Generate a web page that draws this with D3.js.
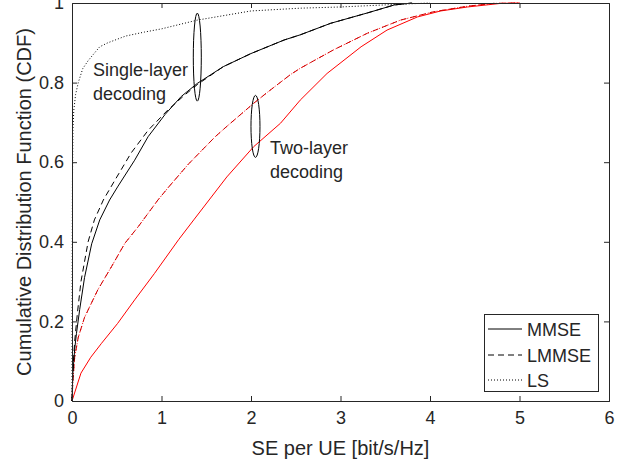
<!DOCTYPE html>
<html>
<head>
<meta charset="utf-8">
<script src="https://cdn.jsdelivr.net/npm/d3@7"></script>
<style>
  body { margin: 0; background: #fff; }
  svg text { font-family: "Liberation Sans", Arial, Helvetica, sans-serif; fill: #262626; }
</style>
</head>
<body>
<svg id="chart" width="629" height="465"></svg>
<script>
// ---- data ----
const xTicks = [0, 1, 2, 3, 4, 5, 6];
const yTicks = [0, 0.2, 0.4, 0.6, 0.8, 1];
const yTickLabels = ["0", "0.2", "0.4", "0.6", "0.8", "1"];

// Single-layer decoding
const singleMMSE_x = [0, 0.01, 0.03, 0.05, 0.086, 0.14, 0.22, 0.31, 0.42, 0.515, 0.70, 0.85, 1.04, 1.22, 1.40, 1.69, 2.0, 2.37, 2.55, 2.89, 3.30, 3.6, 3.8];
const singleMMSE_p = [0, 0.07, 0.13, 0.17, 0.23, 0.31, 0.395, 0.455, 0.505, 0.54, 0.605, 0.664, 0.72, 0.765, 0.798, 0.84, 0.873, 0.907, 0.92, 0.949, 0.975, 0.995, 1];

const singleLMMSE_x = [0, 0.01, 0.03, 0.06, 0.10, 0.18, 0.25, 0.35, 0.48, 0.66, 0.85, 1.07, 1.26, 1.40, 1.69, 2.0, 2.37, 2.55, 2.89, 3.3, 3.6, 3.8];
const singleLMMSE_p = [0, 0.08, 0.15, 0.22, 0.30, 0.40, 0.455, 0.505, 0.555, 0.623, 0.68, 0.731, 0.769, 0.795, 0.84, 0.873, 0.907, 0.92, 0.949, 0.975, 0.995, 1];

const singleLS_x = [0, 0.002, 0.005, 0.01, 0.02, 0.04, 0.07, 0.12, 0.18, 0.25, 0.31, 0.4, 0.6, 0.81, 1.0, 1.4, 2.0, 2.55, 3.0, 3.67, 4.0];
const singleLS_p = [0, 0.3, 0.55, 0.68, 0.73, 0.77, 0.80, 0.835, 0.855, 0.874, 0.89, 0.90, 0.917, 0.927, 0.935, 0.957, 0.98, 0.987, 0.99, 0.997, 1];

// Two-layer decoding
const twoMMSE_x = [0, 0.10, 0.21, 0.33, 0.51, 0.70, 0.92, 1.19, 1.36, 1.73, 2.03, 2.33, 2.55, 2.85, 3.23, 3.52, 3.86, 4.12, 4.42, 4.79, 5.0];
const twoMMSE_p = [0, 0.07, 0.11, 0.145, 0.195, 0.254, 0.32, 0.405, 0.455, 0.563, 0.639, 0.698, 0.756, 0.823, 0.89, 0.932, 0.965, 0.98, 0.99, 0.999, 1];

const twoLMMSE_x = [0, 0.01, 0.03, 0.07, 0.14, 0.29, 0.44, 0.59, 0.74, 0.96, 1.07, 1.30, 1.60, 1.73, 2.03, 2.18, 2.44, 2.55, 2.92, 3.30, 3.67, 4.04, 4.42, 4.71, 5.0];
const twoLMMSE_p = [0, 0.05, 0.11, 0.16, 0.21, 0.28, 0.337, 0.396, 0.438, 0.505, 0.535, 0.595, 0.664, 0.69, 0.748, 0.775, 0.82, 0.836, 0.882, 0.924, 0.957, 0.978, 0.992, 0.999, 1];

const twoLS_x = twoLMMSE_x;
const twoLS_p = twoLMMSE_p;

const legendLabels = ["MMSE", "LMMSE", "LS"];

// ---- layout ----
const svg = d3.select("#chart");
const L = 72, R = 609, T = 3, B = 401;
const x = d3.scaleLinear().domain([0, 6]).range([L, R]);
const y = d3.scaleLinear().domain([0, 1]).range([B, T]);
const axisColor = "#262626";

const zip = (xs, ps) => xs.map((v, i) => [v, ps[i]]);
const line = d3.line().x(d => x(d[0])).y(d => y(d[1]));

const series = [
  { d: zip(twoMMSE_x, twoMMSE_p), color: "#ff0000", dash: null },
  { d: zip(twoLS_x, twoLS_p), color: "#ff0000", dash: "1,2" },
  { d: zip(twoLMMSE_x, twoLMMSE_p), color: "#d00000", dash: "6,4" },
  { d: zip(singleLS_x, singleLS_p), color: "#000000", dash: "1,2" },
  { d: zip(singleLMMSE_x, singleLMMSE_p), color: "#000000", dash: "6,4" },
  { d: zip(singleMMSE_x, singleMMSE_p), color: "#000000", dash: null }
];

const plot = svg.append("g");
series.forEach(s => {
  plot.append("path").attr("d", line(s.d))
    .attr("fill", "none").attr("stroke", s.color).attr("stroke-width", 1)
    .attr("stroke-dasharray", s.dash);
});

// axes (box with inner ticks)
const tl = 5;
const gBottom = svg.append("g").attr("transform", `translate(0,${B})`)
  .call(d3.axisBottom(x).tickValues(xTicks).tickSize(-tl).tickPadding(10).tickFormat(d3.format("d")));
const gTop = svg.append("g").attr("transform", `translate(0,${T})`)
  .call(d3.axisTop(x).tickValues(xTicks).tickSize(-tl).tickFormat(""));
const gLeft = svg.append("g").attr("transform", `translate(${L},0)`)
  .call(d3.axisLeft(y).tickValues(yTicks).tickSize(-tl).tickPadding(8).tickFormat((d, i) => yTickLabels[i]));
const gRight = svg.append("g").attr("transform", `translate(${R},0)`)
  .call(d3.axisRight(y).tickValues(yTicks).tickSize(-tl).tickFormat(""));
[gBottom, gTop, gLeft, gRight].forEach(g => {
  g.selectAll(".domain").attr("stroke", axisColor).attr("stroke-width", 1);
  g.selectAll(".tick line").attr("stroke", axisColor);
  g.selectAll(".tick text").attr("font-size", 18).attr("fill", axisColor)
    .style("font-family", '"Liberation Sans", Arial, sans-serif');
});
gTop.selectAll(".tick").filter(d => d === 0 || d === 6).remove();
gRight.selectAll(".tick").filter(d => d === 0 || d === 1).remove();
gBottom.selectAll(".tick line").filter(d => d === 0 || d === 6).remove();
gLeft.selectAll(".tick line").filter(d => d === 0 || d === 1).remove();

// axis labels
svg.append("text").attr("x", (L + R) / 2).attr("y", 455).attr("text-anchor", "middle")
  .attr("font-size", 20).text("SE per UE [bit/s/Hz]");
svg.append("text").attr("transform", `translate(31,${(T + B) / 2}) rotate(-90)`)
  .attr("text-anchor", "middle").attr("font-size", 20).text("Cumulative Distribution Function (CDF)");

// annotations
const ann = svg.append("g");
ann.append("ellipse").attr("cx", x(1.40)).attr("cy", y(0.864)).attr("rx", 4).attr("ry", 44)
  .attr("fill", "none").attr("stroke", "#000").attr("stroke-width", 1);
ann.append("ellipse").attr("cx", x(2.05)).attr("cy", y(0.69)).attr("rx", 4.5).attr("ry", 31)
  .attr("fill", "none").attr("stroke", "#000").attr("stroke-width", 1);
ann.append("text").attr("x", 93).attr("y", 76).attr("font-size", 18).attr("fill", "#000").text("Single-layer");
ann.append("text").attr("x", 93).attr("y", 100).attr("font-size", 18).attr("fill", "#000").text("decoding");
ann.append("text").attr("x", 270).attr("y", 154).attr("font-size", 18).attr("fill", "#000").text("Two-layer");
ann.append("text").attr("x", 270).attr("y", 178).attr("font-size", 18).attr("fill", "#000").text("decoding");

// legend
const lg = svg.append("g");
lg.append("rect").attr("x", 484.5).attr("y", 314.5).attr("width", 114).attr("height", 77)
  .attr("fill", "#fff").attr("stroke", axisColor).attr("stroke-width", 1);
const legendDash = [null, "6,4", "1,2"];
const legendY = [329, 355, 380];
legendLabels.forEach((lab, i) => {
  lg.append("line").attr("x1", 488).attr("x2", 522).attr("y1", legendY[i]).attr("y2", legendY[i])
    .attr("stroke", "#000").attr("stroke-width", 1).attr("stroke-dasharray", legendDash[i]);
  lg.append("text").attr("x", 527).attr("y", legendY[i] + 6.5).attr("font-size", 18).attr("fill", "#000").text(lab);
});
</script>
</body>
</html>
